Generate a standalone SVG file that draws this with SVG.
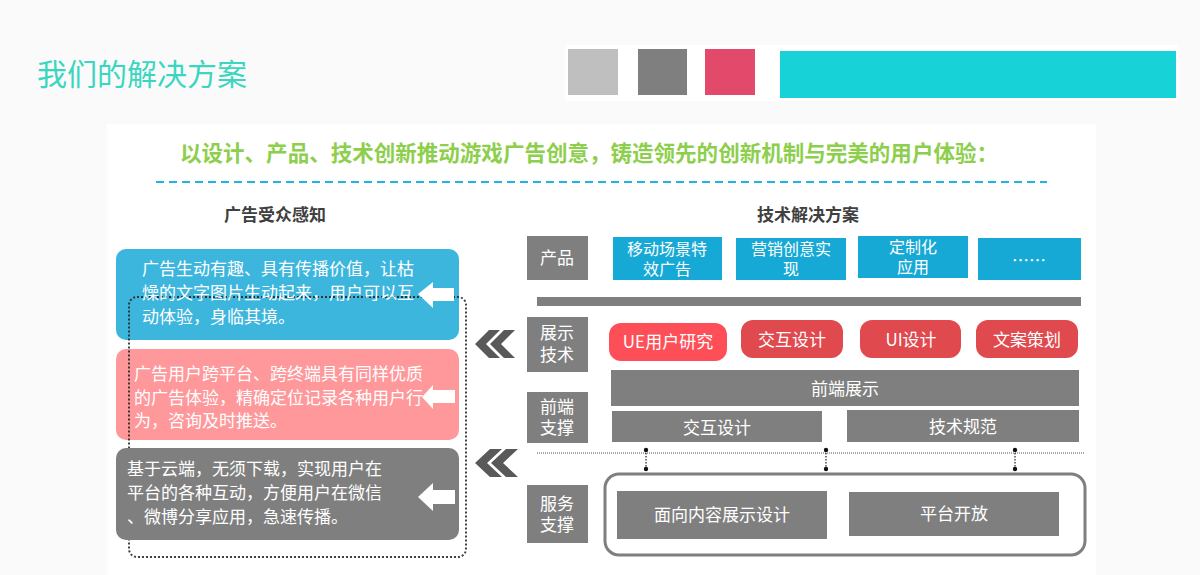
<svg xmlns="http://www.w3.org/2000/svg" width="1200" height="575" viewBox="0 0 1200 575">
<style>
text{font-family:"Noto Sans CJK SC","Noto Sans",sans-serif}
.w{fill:#fff;font-size:17px}
.wc{fill:#fff;font-size:17px;text-anchor:middle}
.ws{fill:#fff;font-size:16px;text-anchor:middle}
.lbl{fill:#7f7f7f}
.blue{fill:#17a9d6}
.red{fill:#e04a4e}
.bar{fill:#7f7f7f}
.arrow{fill:#fff}
.chev{fill:#595959}
.conn{stroke:#333;stroke-width:1.3;stroke-dasharray:1.5 1.5;fill:none}
.dot{fill:#111}
</style>
<rect x="0" y="0" width="1200" height="575" fill="#fafafa"/>
<text x="37" y="85" font-size="30" fill="#3ad6c1">我们的解决方案</text>
<g id="swatches">
<rect x="565" y="45" width="614" height="56" fill="#fff"/>
<rect x="568" y="49" width="50" height="46" fill="#bfbfbf"/>
<rect x="638" y="49" width="49" height="46" fill="#7f7f7f"/>
<rect x="705" y="49" width="50" height="46" fill="#e2496b"/>
<rect x="780" y="51" width="396" height="47" fill="#17d3d8"/>
</g>
<rect x="107" y="124" width="989" height="451" fill="#fff"/>
<text x="180" y="161" font-size="22" font-weight="bold" fill="#8dcf4c" textLength="818" lengthAdjust="spacingAndGlyphs">以设计、产品、技术创新推动游戏广告创意，铸造领先的创新机制与完美的用户体验：</text>
<line x1="156" y1="182" x2="1047" y2="182" stroke="#22b4e0" stroke-width="2" stroke-dasharray="8 5"/>
<text x="275" y="221" font-size="17" font-weight="bold" fill="#404040" text-anchor="middle">广告受众感知</text>
<text x="808" y="221" font-size="17" font-weight="bold" fill="#404040" text-anchor="middle">技术解决方案</text>

<g id="perception-1">
<rect x="116" y="249" width="343" height="91" rx="10" fill="#3db6de"/>
</g>
<g id="perception-2">
<rect x="116" y="349" width="343" height="91" rx="10" fill="#fe989b"/>
</g>
<g id="frame">
<rect x="129" y="297" width="337" height="260" rx="8" fill="none" stroke="#222" stroke-width="2" stroke-dasharray="2 2" stroke-opacity="0.85"/>
</g>
<g id="perception-3">
<rect x="116" y="448" width="343" height="92" rx="10" fill="#7f7f7f"/>
</g>
<g id="perception-texts">
<text class="w" x="142" y="275">广告生动有趣、具有传播价值，让枯</text>
<text class="w" x="142" y="299">燥的文字图片生动起来，用户可以互</text>
<text class="w" x="142" y="323">动体验，身临其境。</text>
<text class="w" x="134" y="380">广告用户跨平台、跨终端具有同样优质</text>
<text class="w" x="134" y="404">的广告体验，精确定位记录各种用户行</text>
<text class="w" x="134" y="427">为，咨询及时推送。</text>
<text class="w" x="127" y="475">基于云端，无须下载，实现用户在</text>
<text class="w" x="127" y="499">平台的各种互动，方便用户在微信</text>
<text class="w" x="127" y="523">、微博分享应用，急速传播。</text>
</g>
<g id="arrows">
<polygon class="arrow" points="418,294 433,282 433,288 454,288 454,301 433,301 433,308"/>
<polygon class="arrow" points="422,397 433,385 433,390 455,390 455,403 433,403 433,409"/>
<polygon class="arrow" points="418,497 433,483 433,490 455,490 455,504 433,504 433,511"/>
</g>
<g id="chevrons">
<polygon class="chev" points="475,344 489,330 500,330 486,344 500,358 489,358"/>
<polygon class="chev" points="490,344 504,330 515,330 501,344 515,358 504,358"/>
<polygon class="chev" points="475,463 490,449 502,449 487,463 502,477 490,477"/>
<polygon class="chev" points="491,463 506,449 518,449 503,463 518,477 506,477"/>
</g>

<g id="row-product">
<rect class="lbl" x="527" y="236" width="61" height="44"/>
<text class="wc" x="557" y="264">产品</text>
</g>
<g id="prod-1">
<rect class="blue" x="613" y="237" width="109" height="43"/>
<text class="ws" x="667" y="255">移动场景特</text>
<text class="ws" x="667" y="275">效广告</text>
</g>
<g id="prod-2">
<rect class="blue" x="736" y="238" width="110" height="42"/>
<text class="ws" x="791" y="255">营销创意实</text>
<text class="ws" x="791" y="275">现</text>
</g>
<g id="prod-3">
<rect class="blue" x="858" y="236" width="110" height="42"/>
<text class="ws" x="913" y="253">定制化</text>
<text class="ws" x="913" y="273">应用</text>
</g>
<g id="prod-4">
<rect class="blue" x="978" y="238" width="103" height="42"/>
<text class="wc" x="1029" y="267">……</text>
</g>
<rect class="bar" x="537" y="297" width="544" height="9"/>

<g id="row-display">
<rect class="lbl" x="527" y="317" width="61" height="55"/>
<text class="wc" x="557" y="339">展示</text>
<text class="wc" x="557" y="361">技术</text>
</g>
<g id="ue">
<rect x="609" y="323" width="118" height="38" rx="12" fill="#fe4f59"/>
<text class="wc" x="668" y="348">UE用户研究</text>
</g>
<g id="interaction">
<rect class="red" x="741" y="320" width="102" height="38" rx="12"/>
<text class="wc" x="792" y="346">交互设计</text>
</g>
<g id="ui">
<rect class="red" x="860" y="320" width="101" height="38" rx="12"/>
<text class="wc" x="911" y="346">UI设计</text>
</g>
<g id="copy">
<rect class="red" x="976" y="320" width="102" height="38" rx="12"/>
<text class="wc" x="1027" y="346">文案策划</text>
</g>
<g id="frontend-display">
<rect class="bar" x="611" y="370" width="468" height="36"/>
<text class="wc" x="845" y="395" font-size="19">前端展示</text>
</g>
<g id="row-frontend">
<rect class="lbl" x="527" y="392" width="61" height="51"/>
<text class="wc" x="557" y="413">前端</text>
<text class="wc" x="557" y="434">支撑</text>
</g>
<g id="fe-interaction">
<rect class="bar" x="612" y="411" width="210" height="31"/>
<text class="wc" x="717" y="434">交互设计</text>
</g>
<g id="fe-spec">
<rect class="bar" x="847" y="410" width="232" height="32"/>
<text class="wc" x="963" y="433">技术规范</text>
</g>

<g id="connectors">
<line x1="537" y1="453" x2="1085" y2="453" stroke="#555" stroke-width="1" stroke-dasharray="1 1"/>
<line class="conn" x1="646" y1="450" x2="646" y2="469"/>
<line class="conn" x1="826" y1="450" x2="826" y2="469"/>
<line class="conn" x1="1015" y1="450" x2="1015" y2="469"/>
<circle class="dot" cx="646" cy="450" r="2.2"/><circle class="dot" cx="646" cy="469" r="2.2"/>
<circle class="dot" cx="826" cy="450" r="2.2"/><circle class="dot" cx="826" cy="469" r="2.2"/>
<circle class="dot" cx="1015" cy="450" r="2.2"/><circle class="dot" cx="1015" cy="469" r="2.2"/>
</g>

<g id="row-service">
<rect class="lbl" x="527" y="485" width="61" height="58"/>
<text class="wc" x="557" y="510">服务</text>
<text class="wc" x="557" y="531">支撑</text>
</g>
<g id="service-frame">
<rect x="605" y="474" width="480" height="81" rx="14" fill="#fff" stroke="#7f7f7f" stroke-width="3"/>
</g>
<g id="svc-content">
<rect class="bar" x="617" y="491" width="210" height="48"/>
<text class="wc" x="722" y="521">面向内容展示设计</text>
</g>
<g id="svc-platform">
<rect class="bar" x="849" y="492" width="210" height="44"/>
<text class="wc" x="954" y="520">平台开放</text>
</g>
</svg>
